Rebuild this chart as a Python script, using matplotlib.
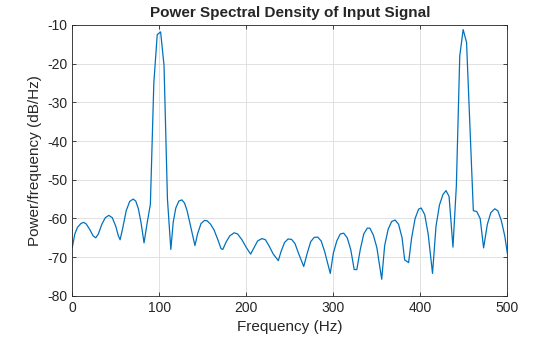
import matplotlib
matplotlib.use("Agg")
import matplotlib.pyplot as plt

plt.rcParams['font.family'] = ['Liberation Sans', 'DejaVu Sans']
plt.rcParams['axes.unicode_minus'] = False

freq_hz = [0, 3, 6, 10, 13, 16, 20, 24, 27, 30, 34, 38, 42, 46, 50, 53, 55, 58,
           62, 66, 70, 73, 76, 79, 82.5, 86.2, 89.8, 93.75, 97.66, 101.56,
           105.47, 109.4, 113.3, 116, 119, 122.5, 126, 129, 132, 136, 141, 144,
           148, 152, 155, 159, 163, 167, 171, 173, 177, 181, 186, 190, 195, 200,
           205, 209, 213, 218, 222, 226, 231, 236.8, 240, 244, 248, 252, 256,
           260, 266, 270, 274, 278, 282, 286, 290, 296.5, 300, 304, 308, 312,
           316, 320, 324, 327, 331, 335, 339, 342, 346, 350, 355.6, 359, 363,
           367, 371, 375, 379, 382, 386.5, 390, 394, 398, 401, 405, 409, 414,
           418, 422, 426, 429.5, 433, 437.5, 441.4, 445.3, 449.2, 453.1, 457,
           460.9, 464.8, 468.75, 472.7, 477, 481, 485.5, 489, 493, 497, 500]
psd_db = [-67.5, -64, -62.3, -61.3, -61, -61.4, -62.8, -64.5, -65, -64, -61.5,
          -59.8, -59.2, -59.8, -62, -64.5, -65.5, -62.5, -58, -55.6, -55, -55.5,
          -57.5, -61, -66.3, -61, -56.3, -25, -12.5, -11.8, -20.5, -55, -68,
          -61, -57.3, -55.5, -55.2, -56, -58, -62, -67, -64, -61.3, -60.5,
          -60.6, -61.5, -63, -65.3, -67.8, -68, -66, -64.5, -63.7, -64, -65.5,
          -67.5, -69.2, -67.5, -65.8, -65.2, -65.5, -67, -69.2, -70.9, -68.5,
          -66.2, -65.3, -65.4, -66.5, -69, -72.4, -69, -66, -64.9, -64.8,
          -65.8, -68.5, -74.2, -69, -65.8, -64, -63.8, -65, -68, -73.2, -73.2,
          -68, -64, -62.5, -62.5, -64.3, -67.5, -75.7, -67, -62.8, -60.8,
          -60.4, -61.5, -65, -70.7, -71.4, -65, -60, -57.6, -57.3, -59, -64,
          -74.2, -62, -56.5, -53.8, -52.8, -54.3, -67.4, -51.5, -18, -11.2,
          -14.5, -36, -58, -58.2, -60, -67.6, -61.5, -58.5, -57.5, -58, -60.5,
          -64.5, -69]

x_ticks = [0, 100, 200, 300, 400, 500]
y_ticks = [-80, -70, -60, -50, -40, -30, -20, -10]

fig = plt.figure(figsize=(5.6, 3.37), dpi=100)
ax = fig.add_axes([0.129, 0.122, 0.777, 0.804])
ax.plot(freq_hz, psd_db, color='#0072BD', linewidth=0.9)
ax.set_xlim(0, 500)
ax.set_ylim(-80, -10)
ax.set_xticks(x_ticks)
ax.set_yticks(y_ticks)
ax.grid(True, color='#dcdcdc', linewidth=0.6)
ax.set_axisbelow(True)
ax.tick_params(direction='in', top=True, right=True, length=3, width=0.6,
               labelsize=10, colors='#262626')
for s in ax.spines.values():
    s.set_color('#262626')
    s.set_linewidth(0.6)
ax.set_xlabel('Frequency (Hz)', fontsize=11, color='#262626')
ax.set_ylabel('Power/frequency (dB/Hz)', fontsize=11, color='#262626')
ax.set_title('Power Spectral Density of Input Signal', fontsize=11,
             fontweight='bold', color='#262626', pad=6)
fig.savefig('out.png', dpi=100)
